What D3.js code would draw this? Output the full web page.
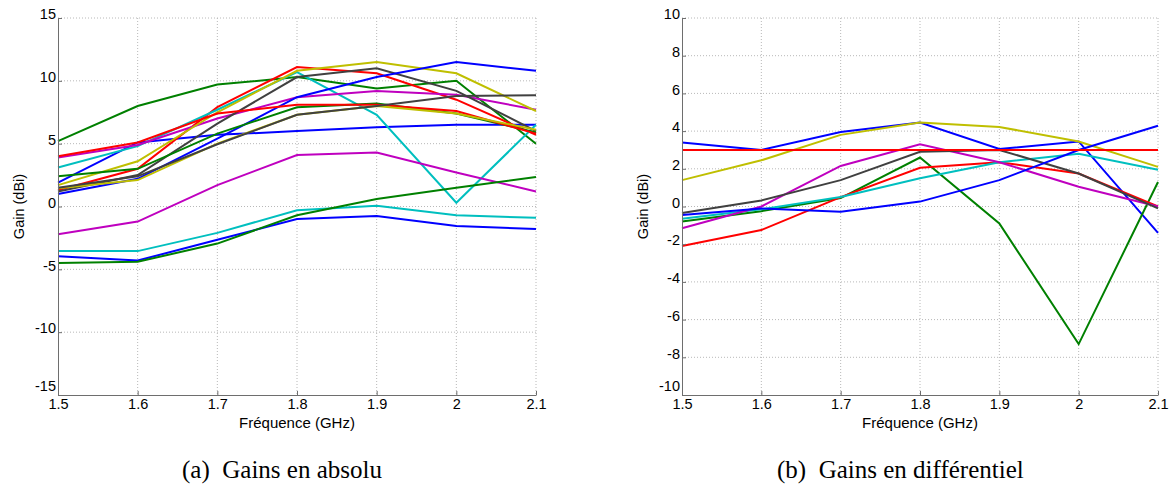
<!DOCTYPE html>
<html><head><meta charset="utf-8">
<script src="https://cdn.jsdelivr.net/npm/d3@7"></script>
<style>body{margin:0;background:#fff}svg{display:block}</style>
</head><body><svg id="c" width="1175" height="488"></svg>
<script>
const freqs = [1.5, 1.6, 1.7, 1.8, 1.9, 2.0, 2.1];
const xTicks = [1.5, 1.6, 1.7, 1.8, 1.9, 2, 2.1];
const yTicksA = [-15, -10, -5, 0, 5, 10, 15];
const yTicksB = [-10, -8, -6, -4, -2, 0, 2, 4, 6, 8, 10];
const palette = ["#0000ff", "#008000", "#ff0000", "#00bfbf", "#bf00bf", "#bfbf00", "#404040"];

// (a) absolute gains, 16 curves in MATLAB colour order
const absBlue1 = [1.9, 5.1, 5.7, 6.0, 6.3, 6.5, 6.5];
const absGreen1 = [5.2, 8.0, 9.7, 10.3, 9.4, 10.0, 5.0];
const absRed1 = [1.3, 3.0, 7.9, 11.1, 10.6, 8.5, 5.7];
const absCyan1 = [3.1, 4.8, 7.7, 10.7, 7.3, 0.3, 6.5];
const absMagenta1 = [3.9, 4.9, 7.0, 8.7, 9.2, 8.9, 7.7];
const absYellow1 = [1.7, 3.6, 7.5, 10.8, 11.5, 10.6, 7.6];
const absGray1 = [1.2, 2.5, 6.6, 10.3, 11.0, 9.2, 6.0];
const absBlue2 = [1.0, 2.2, 5.4, 8.7, 10.3, 11.5, 10.8];
const absGreen2 = [2.4, 3.0, 5.8, 7.9, 8.2, 7.4, 5.9];
const absRed2 = [4.0, 5.1, 7.4, 8.1, 8.1, 7.6, 5.8];
const absCyan2 = [-3.55, -3.55, -2.1, -0.3, 0.05, -0.7, -0.9];
const absMagenta2 = [-2.2, -1.2, 1.7, 4.1, 4.3, 2.7, 1.2];
const absYellow2 = [1.45, 2.1, 5.0, 7.3, 8.0, 7.4, 6.1];
const absGray2 = [1.5, 2.4, 4.95, 7.3, 8.0, 8.8, 8.85];
const absBlue3 = [-3.95, -4.3, -2.65, -1.0, -0.75, -1.55, -1.8];
const absGreen3 = [-4.5, -4.4, -2.95, -0.7, 0.6, 1.5, 2.35];

// (b) differential gains
const difBlue1 = [3.4, 3.0, 3.95, 4.45, 3.05, 3.45, -1.4];
const difGreen1 = [-0.8, -0.25, 0.45, 2.6, -0.9, -7.3, 1.3];
const difRed1 = [-2.1, -1.25, 0.5, 2.05, 2.35, 1.75, 0.0];
const difCyan1 = [-0.65, -0.15, 0.5, 1.5, 2.35, 2.8, 1.95];
const difMagenta1 = [-1.15, 0.0, 2.15, 3.3, 2.35, 1.05, 0.0];
const difYellow1 = [1.4, 2.45, 3.8, 4.45, 4.22, 3.45, 2.1];
const difGray1 = [-0.35, 0.32, 1.4, 2.9, 3.0, 1.75, -0.1];
const difBlue2 = [-0.45, -0.1, -0.28, 0.26, 1.4, 3.0, 4.28];
const difRed2 = [3.0, 3.0, 3.0, 3.0, 3.0, 3.0, 3.0];

const seriesA = [absBlue1, absGreen1, absRed1, absCyan1, absMagenta1, absYellow1, absGray1,
  absBlue2, absGreen2, absRed2, absCyan2, absMagenta2, absYellow2, absGray2, absBlue3, absGreen3];
const colorIdxA = [0, 1, 2, 3, 4, 5, 6, 0, 1, 2, 3, 4, 5, 6, 0, 1];
const seriesB = [difBlue1, difGreen1, difRed1, difCyan1, difMagenta1, difYellow1, difGray1, difBlue2, difRed2];
const colorIdxB = [0, 1, 2, 3, 4, 5, 6, 0, 2];

const svg = d3.select("#c");
const SANS = "Liberation Sans, Arial, sans-serif";
const fmt = d => String(d);

function panel(x0, x1, y0, y1, dom, yTicks, series, cidx, ylabX, caption, capX) {
  const x = d3.scaleLinear().domain([1.5, 2.1]).range([x0, x1]);
  const y = d3.scaleLinear().domain(dom).range([y1, y0]);
  const g = svg.append("g");
  g.selectAll(".gx").data(xTicks.slice(1)).enter().append("line")
    .attr("x1", d => x(d)).attr("x2", d => x(d)).attr("y1", y0).attr("y2", y1)
    .attr("stroke", "#b8b8b8").attr("stroke-width", 1).attr("stroke-dasharray", "1,2");
  g.selectAll(".gy").data(yTicks.slice(1)).enter().append("line")
    .attr("x1", x0).attr("x2", x1).attr("y1", d => y(d)).attr("y2", d => y(d))
    .attr("stroke", "#b8b8b8").attr("stroke-width", 1).attr("stroke-dasharray", "1,2");
  const line = d3.line().x((d, i) => x(freqs[i])).y(d => y(d));
  series.forEach((s, i) => {
    g.append("path").attr("d", line(s)).attr("fill", "none")
      .attr("stroke", palette[cidx[i]]).attr("stroke-width", 2);
  });
  const xa = g.append("g").attr("transform", `translate(0,${y1})`)
    .call(d3.axisBottom(x).tickValues(xTicks).tickSizeInner(-4).tickSizeOuter(0).tickPadding(4).tickFormat(fmt));
  const ya = g.append("g").attr("transform", `translate(${x0},0)`)
    .call(d3.axisLeft(y).tickValues(yTicks).tickSizeInner(-4).tickSizeOuter(0).tickPadding(2).tickFormat(fmt));
  [xa, ya].forEach(a => {
    a.select(".domain").attr("stroke", "#6e6e6e");
    a.selectAll(".tick line").attr("stroke", "#6e6e6e");
    a.selectAll("text").attr("font-family", SANS).attr("font-size", 14.5).attr("fill", "#000");
  });
  xa.selectAll(".tick text").attr("dy", "0.7em");
  ya.selectAll(".tick text").attr("dy", (d, i) => i === 0 ? "-0.3em" : "0.05em");
  g.append("text").attr("x", (x0 + x1) / 2).attr("y", y1 + 33).attr("text-anchor", "middle")
    .attr("font-family", SANS).attr("font-size", 15).text("Fréquence (GHz)");
  g.append("text").attr("transform", `translate(${ylabX},${(y0 + y1) / 2}) rotate(-90)`).attr("text-anchor", "middle")
    .attr("font-family", SANS).attr("font-size", 14.5).text("Gain (dBi)");
  g.append("text").attr("x", capX).attr("y", 478).attr("text-anchor", "start")
    .attr("font-family", "Liberation Serif, Times New Roman, serif").attr("font-size", 25).attr("fill", "#000")
    .style("white-space", "pre").text(caption);
}

panel(58, 536, 18, 395, [-15, 15], yTicksA, seriesA, colorIdxA, 24, "(a)  Gains en absolu", 182);
panel(682, 1158, 18, 395, [-10, 10], yTicksB, seriesB, colorIdxB, 648, "(b)  Gains en différentiel", 777);
</script></body></html>
